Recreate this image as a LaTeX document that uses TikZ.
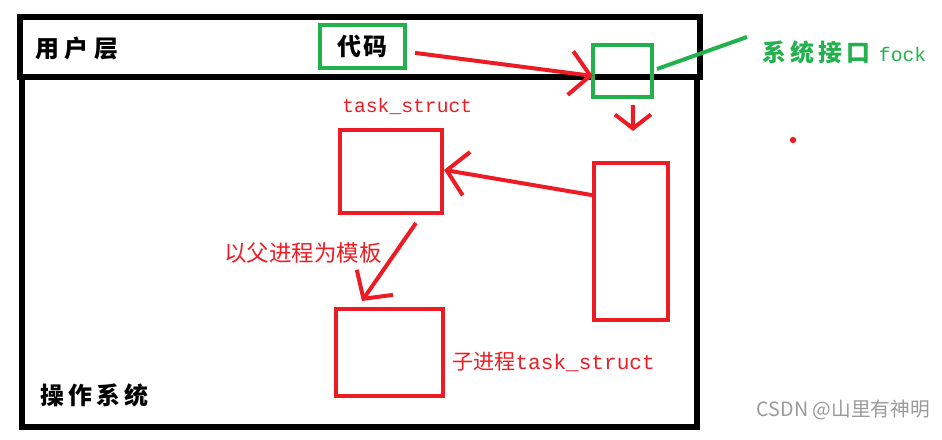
\documentclass[tikz,border=0pt]{standalone}
\usepackage{fontspec}
\setmonofont{Liberation Mono}
\newfontfamily\cjk{Noto Sans CJK SC}
\usetikzlibrary{positioning,arrows.meta}
\definecolor{PaintRed}{HTML}{ED1C24}
\definecolor{PaintGreen}{HTML}{22B14C}
\definecolor{MarkGray}{HTML}{9A9A9A}

\begin{document}
\begin{tikzpicture}[x=0.25mm,y=-0.25mm,
    layerbox/.style={draw=black,line width=1.5mm,inner sep=0pt},
    greenbox/.style={draw=PaintGreen,line width=1mm,inner sep=0pt},
    redbox/.style={draw=PaintRed,line width=1mm,inner sep=0pt},
    redarrow/.style={draw=PaintRed,line width=1mm,
                     -{Straight Barb[length=5mm,width=11mm]}},
    blacklabel/.style={inner sep=0pt,font=\cjk\bfseries\fontsize{17}{17}\selectfont},
    redlabel/.style={inner sep=0pt,text=PaintRed,font=\cjk\fontsize{16}{16}\selectfont}]
  \useasboundingbox (0,0) rectangle (942,440);
  % the two layers
  \node[layerbox,minimum width=168.75mm,minimum height=87.5mm] (osbox) at (359.5,252) {};
  \node[layerbox,minimum width=170mm,minimum height=15mm] (userbar) at (360,47) {};
  \node[blacklabel,anchor=west] (userlbl) at (35,48) {用\hspace{4pt}户\hspace{4pt}层};
  \node[blacklabel,anchor=west] (oslbl) at (40,395) {操\hspace{3pt}作\hspace{3pt}系\hspace{3pt}统};
  % code and the system call
  \node[greenbox,blacklabel,minimum width=21.25mm,minimum height=10.75mm] (code) at (362.5,46.5) {代\hspace{2pt}码};
  \node[greenbox,minimum width=14.75mm,minimum height=13mm] (fork) at (622.5,71) {};
  \node[anchor=west,inner sep=0pt,text=PaintGreen] (forklbl) at (762,52)
    {{\cjk\bfseries\fontsize{17}{17}\selectfont 系\hspace{3pt}统\hspace{3pt}接\hspace{3pt}口}\hspace{6pt}{\ttfamily\fontsize{14}{14}\selectfont fock}};
  % task_struct boxes
  \node[redbox,minimum width=25.5mm,minimum height=20.75mm] (parent) at (391,171.5) {};
  \node[redbox,minimum width=26.75mm,minimum height=21.75mm] (child) at (389.5,352.5) {};
  \node[redbox,minimum width=18.5mm,minimum height=39.25mm] (tall) at (631,241.5) {};
  \node[anchor=west,inner sep=0pt,text=PaintRed,font=\ttfamily\fontsize{14}{14}\selectfont] (parentlbl) at (342,106) {task\_struct};
  \node[redlabel,anchor=west] (tmpllbl) at (224,253) {以父进程为模板};
  \node[redlabel,anchor=west,font=\cjk\fontsize{15}{15}\selectfont] (childlbl) at (452,362) {子进程{\ttfamily task\_struct}};
  \fill[PaintRed] (793,140) circle (0.8mm);
  % arrows
  \draw[redarrow] ([xshift=2mm,yshift=-1.6mm]code.east) -- ([xshift=0.5mm,yshift=-1.25mm]fork.west);
  \draw[redarrow,-{Straight Barb[length=3.5mm,width=9mm]}] ([xshift=2.6mm,yshift=-1.5mm]fork.south) -- ([xshift=0.5mm,yshift=7.5mm]tall.north);
  \draw[redarrow] ([yshift=11.6mm]tall.west) -- ([yshift=0.4mm]parent.east);
  \draw[redarrow] ([xshift=6.25mm,yshift=-2mm]parent.south) -- ([xshift=-6.9mm,yshift=1.5mm]child.north);
  \draw[PaintGreen,line width=1mm] ([xshift=0.75mm,yshift=0.5mm]fork.east) -- ([xshift=-3.75mm,yshift=3.75mm]forklbl.west);
  \node[anchor=east,inner sep=0pt,text=MarkGray,font=\cjk\fontsize{14}{14}\selectfont] (mark) at (930,410) {CSDN @山里有神明};
\end{tikzpicture}
\end{document}
